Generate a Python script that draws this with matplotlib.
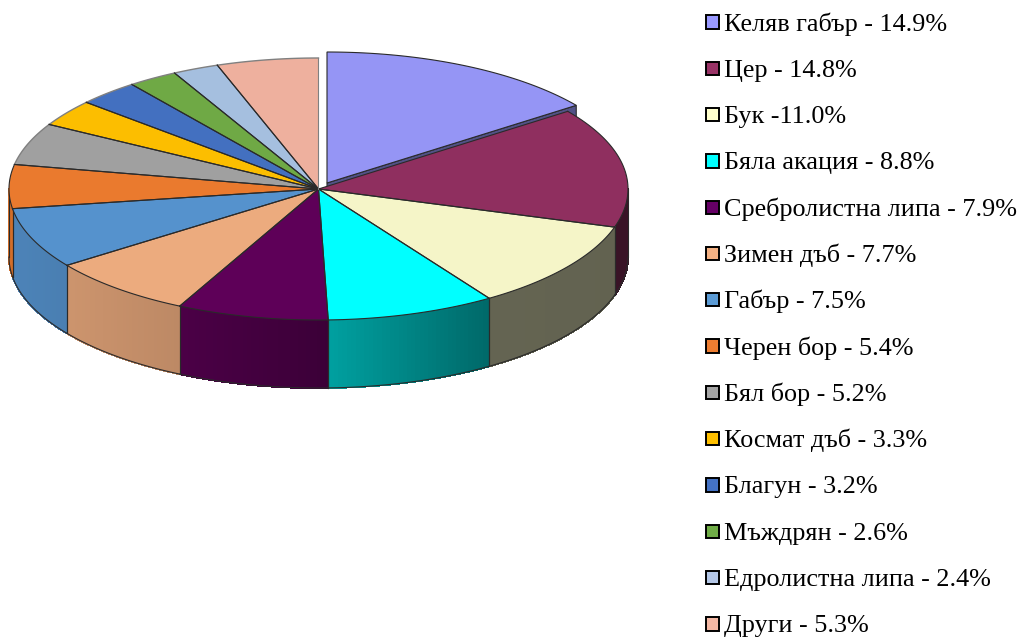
import numpy as np
import matplotlib
matplotlib.use('Agg')
import matplotlib.pyplot as plt
from matplotlib.collections import PolyCollection
from matplotlib.patches import Polygon, Rectangle

plt.rcParams['font.family'] = ['Liberation Serif', 'DejaVu Serif']

species = ['Келяв габър', 'Цер', 'Бук', 'Бяла акация', 'Сребролистна липа',
           'Зимен дъб', 'Габър', 'Черен бор', 'Бял бор', 'Космат дъб',
           'Благун', 'Мъждрян', 'Едролистна липа', 'Други']
shares = [14.9, 14.8, 11.0, 8.8, 7.9, 7.7, 7.5, 5.4, 5.2, 3.3, 3.2, 2.6, 2.4, 5.3]
labels = ['Келяв габър - 14.9%', 'Цер - 14.8%', 'Бук -11.0%', 'Бяла акация - 8.8%',
          'Сребролистна липа - 7.9%', 'Зимен дъб - 7.7%', 'Габър - 7.5%',
          'Черен бор - 5.4%', 'Бял бор - 5.2%', 'Космат дъб - 3.3%',
          'Благун - 3.2%', 'Мъждрян - 2.6%', 'Едролистна липа - 2.4%', 'Други - 5.3%']
top_colors = ['#9595f5', '#8f2f5f', '#f5f5c8', '#00ffff', '#5e0058', '#ecab7e', '#5592cd',
              '#ea7a2e', '#a0a0a0', '#fcbe00', '#4370c0', '#6fa945', '#a5bfdf', '#eeb09e']
key_colors = ['#9999ff', '#993366', '#ffffcc', '#00ffff', '#660066', '#f4b183', '#5b9bd5',
              '#ed7d31', '#a5a5a5', '#ffc000', '#4472c4', '#70ad47', '#b4c7e7', '#f4b8a4']

# pie geometry in pixels
cx, cy = 318.5, 189
a, b = 309.5, 131
depth = 68
explode = (8.5, -6)


def rim(theta, ox=cx, oy=cy):
    # theta is clockwise from 12 o'clock
    return ox + a * np.sin(theta), oy - b * np.cos(theta)


def shade(x):
    return np.interp((x - cx) / a, [-1, -0.45, 0, 0.55, 1], [0.9, 0.8, 0.64, 0.41, 0.4])


def scaled(col, k):
    return tuple(c * k for c in matplotlib.colors.to_rgb(col))


edges = np.radians(np.cumsum([0] + shares) * 360 / sum(shares))

fig = plt.figure(figsize=(10.19, 6.38), dpi=100)
ax = fig.add_axes([0, 0, 1, 1])
ax.set_xlim(0, 1019)
ax.set_ylim(638, 0)
ax.axis('off')

line = '#2a2a2a'
soft = '#808080'
ox, oy = cx + explode[0], cy + explode[1]

# cut face of the pulled out slice, sits behind everything else
ex, ey = rim(edges[1], ox, oy)
ax.add_patch(Polygon([(ox, oy), (ex, ey), (ex, ey + depth), (ox, oy + depth)],
                     fc=scaled(top_colors[0], 0.55), ec=line, lw=0.8, zorder=1))
t = np.linspace(edges[0], edges[1], 80)
x, y = rim(t, ox, oy)
ax.add_patch(Polygon(np.r_[[(ox, oy)], np.c_[x, y]], fc=top_colors[0], ec=line, lw=0.8, zorder=2))

# side walls, front half only
for i in range(1, len(shares)):
    t0 = max(edges[i], np.pi / 2)
    t1 = min(edges[i + 1], 3 * np.pi / 2)
    if t1 <= t0:
        continue
    t = np.linspace(t0, t1, 40)
    x, y = rim(t)
    quads = [[(x[j], y[j]), (x[j + 1], y[j + 1]), (x[j + 1], y[j + 1] + depth), (x[j], y[j] + depth)]
             for j in range(len(t) - 1)]
    cols = [scaled(top_colors[i], shade((x[j] + x[j + 1]) / 2)) for j in range(len(t) - 1)]
    ax.add_collection(PolyCollection(quads, facecolors=cols, edgecolors=cols, linewidths=0.8,
                                     antialiaseds=False, zorder=3))
    ax.plot(x, y + depth, color=line, lw=0.8, zorder=4)
    for j in (0, -1):
        ax.plot([x[j], x[j]], [y[j], y[j] + depth], color=line, lw=0.8, zorder=4)

# top faces, back rim drawn softer than the front one
for i in range(1, len(shares)):
    t = np.linspace(edges[i], edges[i + 1], 60)
    x, y = rim(t)
    ax.add_patch(Polygon(np.r_[[(cx, cy)], np.c_[x, y]], fc=top_colors[i], ec='none', zorder=5))
    back = edges[i] >= 3 * np.pi / 2
    ax.plot(x, y, color=soft if back else line, lw=1.0 if back else 0.8, zorder=6)
    ax.plot([cx, x[0]], [cy, y[0]], color=line, lw=0.8, zorder=6)
    ax.plot([cx, x[-1]], [cy, y[-1]], color=soft if i == len(shares) - 1 else line, lw=0.8, zorder=6)

# legend
for i, lab in enumerate(labels):
    yy = 22 + i * 46.3
    ax.add_patch(Rectangle((706, yy - 6.7), 13.4, 13.4, fc=key_colors[i], ec='black', lw=1.4, zorder=7))
    ax.text(724.5, yy + 8.5, lab, fontsize=18.85, va='baseline', ha='left', color='black')

fig.savefig('out.png', dpi=100, facecolor='white')
